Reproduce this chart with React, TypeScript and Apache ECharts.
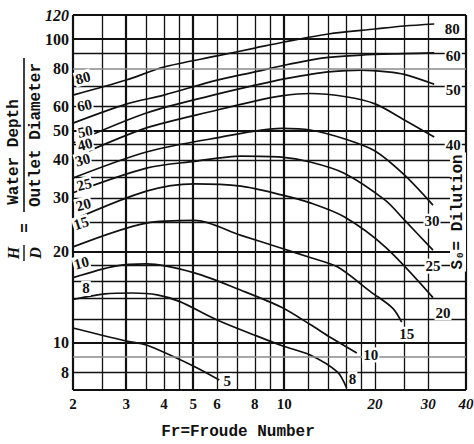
import React, { useEffect, useRef } from 'react';
import * as echarts from 'echarts';

// ---- axis / grid values ----
const xGridLines = [2, 2.5, 3, 3.5, 4, 4.5, 5, 6, 7, 8, 9, 10, 12, 14, 16, 18, 20, 25, 30, 40];
const yGridLines = [7, 8, 9, 10, 12, 14, 16, 18, 20, 25, 30, 35, 40, 45, 50, 60, 70, 80, 90, 100, 120];
const xTickLabels = [2, 3, 4, 5, 6, 8, 10, 20, 30, 40];
const yTickLabels = [8, 10, 20, 30, 40, 50, 60, 80, 100, 120];
const xItalic = [20, 30, 40];
const yItalic = [120];
const xMajor = [2, 3, 5, 10, 40];
const yMajor = [7, 10, 20, 50, 100, 120];
const yGray = [9, 80];

// ---- curves: S0 = dilution, points [Froude number, H/D] ----
const s80 = [[2, 65.4], [3, 73.3], [4, 80.9], [6, 88.0], [8, 93.4], [10, 97.8], [14, 103.9], [20, 107.9], [25, 110.4], [31.4, 112.1]];
const s60 = [[2, 52.9], [3, 61.1], [4, 65.4], [6, 73.3], [8, 78.0], [10, 82.0], [12.2, 85.3], [14, 87.0], [18, 88.6], [25, 89.5], [31.4, 90.0]];
const s50 = [[2, 45.5], [3.5, 57.1], [6, 65.9], [8, 70.5], [10, 74.0], [12.2, 76.5], [14, 78.0], [18, 79.0], [22, 78.0], [25, 76.5], [31.4, 71.0]];
const s40 = [[2, 40.6], [3.5, 51.0], [6, 58.4], [8, 62.5], [9.8, 65.0], [12.2, 66.2], [16, 64.6], [20, 61.2], [25, 54.2], [31.4, 47.6]];
const s30 = [[2, 34.9], [3.5, 42.5], [6, 47.3], [9.8, 50.8], [12.2, 50.2], [16, 46.8], [20, 42.8], [25, 35.7], [31.1, 28.4]];
const s25 = [[2, 31.2], [3.5, 37.6], [5.05, 39.6], [7.2, 41.2], [9.8, 40.9], [12.2, 39.4], [15.8, 36.2], [21.6, 29.5], [25, 25.4], [31.1, 20.2]];
const s20 = [[2, 25.4], [3.5, 31.6], [5.05, 33.4], [7.2, 32.8], [9.8, 30.7], [12.2, 28.9], [15.8, 26.0], [21.6, 20.7], [31.1, 14.1]];
const s15 = [[2, 20.7], [3.5, 24.8], [5.05, 25.3], [7.2, 22.6], [9.8, 20.5], [12.2, 19.1], [15, 17.8], [19.4, 14.7], [22.9, 13.0], [24.5, 11.7]];
const s10 = [[2, 16.4], [2.76, 17.9], [3.5, 18.2], [5.05, 17.0], [7.2, 14.9], [9.8, 13.1], [12.2, 11.5], [14.3, 10.4], [17.4, 9.27]];
const s8 = [[2, 13.9], [2.55, 14.5], [3.15, 14.6], [3.8, 14.4], [4.5, 13.7], [6, 11.9], [8, 10.6], [9.9, 9.77], [12.2, 9.13], [15, 8.03], [16.1, 7.11]];
const s5 = [[2, 11.2], [3, 10.15], [3.5, 9.84], [5, 8.4], [6.1, 7.55]];

const curves: { name: string; data: number[][] }[] = [
  { name: '80', data: s80 },
  { name: '60', data: s60 },
  { name: '50', data: s50 },
  { name: '40', data: s40 },
  { name: '30', data: s30 },
  { name: '25', data: s25 },
  { name: '20', data: s20 },
  { name: '15', data: s15 },
  { name: '10', data: s10 },
  { name: '8', data: s8 },
  { name: '5', data: s5 },
];

// label layout (pixel offsets from curve start / end, rotation in degrees)
const labelLayout: Record<string, { left?: [number, number, number]; right: [number, number] }> = {
  '80': { left: [14, -14, 15], right: [18, 5] },
  '60': { left: [15, -15, 12], right: [19, 3] },
  '50': { left: [14, -9, 10], right: [19, 6] },
  '40': { left: [15, -10, 15], right: [19, 8] },
  '30': { left: [14, -15, 15], right: [-1, 16] },
  '25': { left: [13, -5, 15], right: [0, 16] },
  '20': { left: [14, -12, 15], right: [10, 15] },
  '15': { left: [15, -20, 18], right: [5, 12] },
  '10': { left: [12, -12, 15], right: [14, 2] },
  '8': { left: [13, -11, 0], right: [6, -9] },
  '5': { right: [8, 1] },
};

const SERIF = '"Liberation Serif", "DejaVu Serif", serif';
const MONO = '"Liberation Mono", "DejaVu Sans Mono", monospace';
const INK = '#111';

function App() {
  const ref = useRef<HTMLDivElement>(null);

  useEffect(() => {
    const chart = echarts.init(ref.current!, null, { renderer: 'svg' });

    const vLines = xGridLines.map((v) => ({
      xAxis: v,
      lineStyle: {
        color: INK,
        width: xMajor.includes(v) ? 2.2 : 1.3,
        type: 'solid',
      },
      label: xTickLabels.includes(v)
        ? {
            show: true,
            position: 'start',
            formatter: String(v),
            distance: 6,
            color: INK,
            fontFamily: SERIF,
            fontWeight: 'bold',
            fontSize: 15,
            fontStyle: xItalic.includes(v) ? 'italic' : 'normal',
          }
        : { show: false },
    }));

    const hLines = yGridLines.map((v) => ({
      yAxis: v,
      lineStyle: {
        color: yGray.includes(v) ? '#8a8a8a' : INK,
        width: yMajor.includes(v) ? 2.2 : yGray.includes(v) ? 1.6 : 1.3,
        type: 'solid',
      },
      label: yTickLabels.includes(v)
        ? {
            show: true,
            position: 'start',
            formatter: String(v),
            distance: 4,
            color: INK,
            fontFamily: SERIF,
            fontWeight: 'bold',
            fontSize: 16,
            fontStyle: yItalic.includes(v) ? 'italic' : 'normal',
          }
        : { show: false },
    }));

    const labelStyle = {
      show: true,
      position: 'inside',
      color: INK,
      fontFamily: SERIF,
      fontWeight: 'bold',
      fontSize: 15,
      backgroundColor: '#fff',
      padding: [0, 1],
    };

    const curveSeries = curves.map((c) => {
      const lay = labelLayout[c.name];
      const first = c.data[0];
      const last = c.data[c.data.length - 1];
      const mp: any[] = [];
      if (lay.left) {
        mp.push({
          coord: first,
          label: { ...labelStyle, formatter: c.name, offset: [lay.left[0], lay.left[1]], rotate: lay.left[2] },
        });
      }
      mp.push({
        coord: last,
        label: { ...labelStyle, formatter: c.name, offset: [lay.right[0], lay.right[1]] },
      });
      return {
        type: 'line',
        name: 'S0=' + c.name,
        data: c.data,
        smooth: 0.3,
        symbol: 'none',
        showSymbol: false,
        silent: true,
        z: 3,
        lineStyle: { color: INK, width: 1.7 },
        markPoint: {
          symbol: 'circle',
          symbolSize: 1,
          silent: true,
          itemStyle: { color: 'rgba(0,0,0,0)' },
          data: mp,
        },
      };
    });

    const option: any = {
      animation: false,
      backgroundColor: '#fff',
      grid: { left: 73, right: 8, top: 15, bottom: 54, show: false },
      xAxis: {
        type: 'log',
        logBase: 10,
        min: 2,
        max: 40,
        axisLine: { show: false },
        axisTick: { show: false },
        axisLabel: { show: false },
        splitLine: { show: false },
      },
      yAxis: {
        type: 'log',
        logBase: 10,
        min: 7,
        max: 120,
        axisLine: { show: false },
        axisTick: { show: false },
        axisLabel: { show: false },
        splitLine: { show: false },
      },
      series: [
        {
          type: 'line',
          name: 'grid',
          data: [],
          silent: true,
          z: 1,
          markLine: {
            silent: true,
            symbol: ['none', 'none'],
            data: [...vLines, ...hLines],
          },
        },
        ...curveSeries,
      ],
      graphic: [
        // left axis title: H/D = Water Depth / Outlet Diameter
        { type: 'text', x: 14, y: 152, rotation: Math.PI / 2, z: 10,
          style: { text: 'Water Depth', fontFamily: MONO, fontSize: 16, fontWeight: 'bold', fill: INK, align: 'center', verticalAlign: 'middle' } },
        { type: 'text', x: 36, y: 135, rotation: Math.PI / 2, z: 10,
          style: { text: 'Outlet Diameter', fontFamily: MONO, fontSize: 16, fontWeight: 'bold', fill: INK, align: 'center', verticalAlign: 'middle' } },
        { type: 'line', z: 10, shape: { x1: 24, y1: 58, x2: 24, y2: 212 }, style: { stroke: INK, lineWidth: 1.6 } },
        { type: 'text', x: 26, y: 228, rotation: Math.PI / 2, z: 10,
          style: { text: '=', fontFamily: MONO, fontSize: 16, fontWeight: 'bold', fill: INK, align: 'center', verticalAlign: 'middle' } },
        { type: 'text', x: 13, y: 253, rotation: Math.PI / 2, z: 10,
          style: { text: 'H', fontFamily: SERIF, fontSize: 16, fontStyle: 'italic', fontWeight: 'bold', fill: INK, align: 'center', verticalAlign: 'middle' } },
        { type: 'line', z: 10, shape: { x1: 24, y1: 245, x2: 24, y2: 261 }, style: { stroke: INK, lineWidth: 1.4 } },
        { type: 'text', x: 35, y: 253, rotation: Math.PI / 2, z: 10,
          style: { text: 'D', fontFamily: SERIF, fontSize: 16, fontStyle: 'italic', fontWeight: 'bold', fill: INK, align: 'center', verticalAlign: 'middle' } },
        // right title
        { type: 'text', x: 458, y: 212, rotation: Math.PI / 2, z: 10,
          style: { text: 'S₀= Dilution', fontFamily: MONO, fontSize: 16, fontWeight: 'bold', fill: INK, align: 'center', verticalAlign: 'middle', backgroundColor: '#fff', padding: [0, 2] } },
        // x axis title
        { type: 'text', x: 238, y: 432, z: 10,
          style: { text: 'Fr=Froude Number', fontFamily: MONO, fontSize: 16, fontWeight: 'bold', fill: INK, align: 'center', verticalAlign: 'middle' } },
      ],
    };

    chart.setOption(option);
    return () => chart.dispose();
  }, []);

  return (
    <div
      ref={ref}
      style={{ position: 'fixed', left: 0, top: 0, width: 474, height: 444, background: '#fff' }}
    />
  );
}

export default App;
